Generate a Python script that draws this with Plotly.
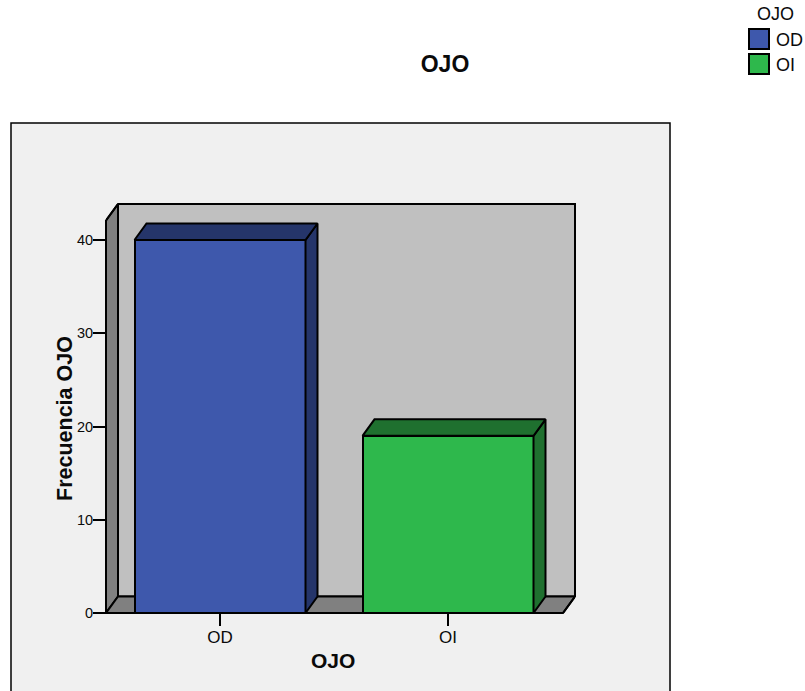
import plotly.graph_objects as go

categories = ["OD", "OI"]
frequencies = [40, 19]
front_colors = ["#3e58ac", "#2eb84c"]
side_colors = ["#25356a", "#1f702f"]
y_ticks = [0, 10, 20, 30, 40]

W, H = 805, 691
PX_LEFT, PX_RIGHT, PX_BOTTOM, PX_TOP = 106, 575, 613, 204
PX_PER_CAT = 228.0
PX_PER_UNIT = 9.325
DX_PX, DY_PX = 12, 16.5
dx = DX_PX / PX_PER_CAT
dy = DY_PX / PX_PER_UNIT
x_min = -0.5
x_max = x_min + (PX_RIGHT - PX_LEFT) / PX_PER_CAT
y_max = (PX_BOTTOM - PX_TOP) / PX_PER_UNIT
x_front_right = x_max - dx
y_front_top = y_max - dy
BAR_W = 171 / PX_PER_CAT
BLACK = "#000000"
TEXT = "#0a0a0a"
FONT = "Liberation Sans, Arial, sans-serif"
EDGE = 2


def px(x):
    return x / W


def py(y):
    return 1 - y / H


fig = go.Figure()
fig.add_trace(go.Bar(
    x=list(range(len(categories))), y=frequencies, width=BAR_W,
    marker=dict(color=front_colors, line=dict(color=BLACK, width=EDGE)),
    customdata=categories, hovertemplate="%{customdata}: %{y}<extra></extra>",
    showlegend=False,
))

# depth faces of every bar, derived from the values
for i, v in enumerate(frequencies):
    l, r = i - BAR_W / 2, i + BAR_W / 2
    fig.add_trace(go.Scatter(
        x=[r, r + dx, r + dx, r, r], y=[0, dy, v + dy, v, 0],
        mode="lines", fill="toself", fillcolor=side_colors[i],
        line=dict(color=BLACK, width=EDGE), hoverinfo="skip", showlegend=False))
    fig.add_trace(go.Scatter(
        x=[l, l + dx, r + dx, r, l], y=[v, v + dy, v + dy, v, v],
        mode="lines", fill="toself", fillcolor=side_colors[i],
        line=dict(color=BLACK, width=EDGE), hoverinfo="skip", showlegend=False))

frame_path = (
    f"M{px(PX_LEFT)},{py(PX_BOTTOM)} L{px(PX_LEFT)},{py(PX_TOP + DY_PX)} "
    f"L{px(PX_LEFT + DX_PX)},{py(PX_TOP)} L{px(PX_RIGHT)},{py(PX_TOP)} "
    f"L{px(PX_RIGHT)},{py(PX_BOTTOM - DY_PX)} L{px(PX_RIGHT - DX_PX)},{py(PX_BOTTOM)} Z"
)

shapes = [
    # chart panel
    dict(type="rect", xref="paper", yref="paper", layer="below",
         x0=px(11), x1=px(670), y0=py(720), y1=py(123),
         fillcolor="#f0f0f0", line=dict(color=BLACK, width=1.5)),
    # back wall
    dict(type="rect", xref="x", yref="y", layer="below",
         x0=x_min + dx, x1=x_max, y0=dy, y1=y_max,
         fillcolor="#c0c0c0", line=dict(color=BLACK, width=EDGE)),
    # left wall
    dict(type="path", xref="x", yref="y", layer="below",
         path=f"M{x_min},0 L{x_min + dx},{dy} L{x_min + dx},{y_max} L{x_min},{y_front_top} Z",
         fillcolor="#808080", line=dict(color=BLACK, width=EDGE)),
    # floor
    dict(type="path", xref="x", yref="y", layer="below",
         path=f"M{x_min},0 L{x_min + dx},{dy} L{x_max},{dy} L{x_front_right},0 Z",
         fillcolor="#808080", line=dict(color=BLACK, width=EDGE)),
    # outer frame of the 3D box (paper-referenced so it is not clipped)
    dict(type="path", xref="paper", yref="paper", layer="above",
         path=frame_path, line=dict(color=BLACK, width=EDGE)),
]

# legend
legend_tops = [29, 54]
for i, top in enumerate(legend_tops):
    shapes.append(dict(type="rect", xref="paper", yref="paper",
                       x0=px(749), x1=px(769), y0=py(top + 20), y1=py(top),
                       fillcolor=front_colors[i], line=dict(color=BLACK, width=EDGE)))

annotations = [
    dict(text="OJO", x=px(775), y=py(14), xref="paper", yref="paper", showarrow=False,
         xanchor="center", yanchor="middle", font=dict(size=18, family=FONT, color=TEXT)),
    dict(text="<b>OJO</b>", x=px(333), y=py(660), xref="paper", yref="paper", showarrow=False,
         xanchor="center", yanchor="middle", font=dict(size=21, family=FONT, color=TEXT)),
    dict(text="<b>Frecuencia OJO</b>", x=px(65), y=py(419), xref="paper", yref="paper",
         showarrow=False, textangle=-90, xanchor="center", yanchor="middle",
         font=dict(size=21.5, family=FONT, color=TEXT)),
]
for i, top in enumerate(legend_tops):
    annotations.append(dict(text=categories[i], x=px(774), y=py(top + 11), xref="paper", yref="paper",
                            showarrow=False, xanchor="left", yanchor="middle",
                            font=dict(size=18, family=FONT, color=TEXT)))

fig.update_layout(
    width=W, height=H, margin=dict(l=0, r=0, t=0, b=0),
    paper_bgcolor="#ffffff", plot_bgcolor="rgba(0,0,0,0)",
    title=dict(text="<b>OJO</b>", x=px(445), y=py(64), xref="paper", yref="paper",
               xanchor="center", yanchor="middle",
               font=dict(size=23, family=FONT, color=TEXT)),
    shapes=shapes, annotations=annotations, showlegend=False,
    bargap=0,
    xaxis=dict(domain=[px(PX_LEFT), px(PX_RIGHT)], range=[x_min, x_max], automargin=False,
               tickmode="array", tickvals=list(range(len(categories))), ticktext=categories,
               ticks="outside", ticklen=12, tickwidth=1.5, tickcolor=BLACK, ticklabelstandoff=-3,
               showline=False, showgrid=False, zeroline=False,
               tickfont=dict(size=17, family=FONT, color=TEXT)),
    yaxis=dict(domain=[py(PX_BOTTOM), py(PX_TOP)], range=[0, y_max], automargin=False,
               tickmode="array", tickvals=y_ticks,
               ticks="outside", ticklen=12, tickwidth=1.5, tickcolor=BLACK, ticklabelstandoff=-3,
               showline=False, showgrid=False, zeroline=False,
               tickfont=dict(size=14.5, family=FONT, color=TEXT)),
)

fig.write_html("out.html", config=dict(displayModeBar=False),
               post_script="document.body.style.margin='0';document.body.style.overflow='hidden';")
